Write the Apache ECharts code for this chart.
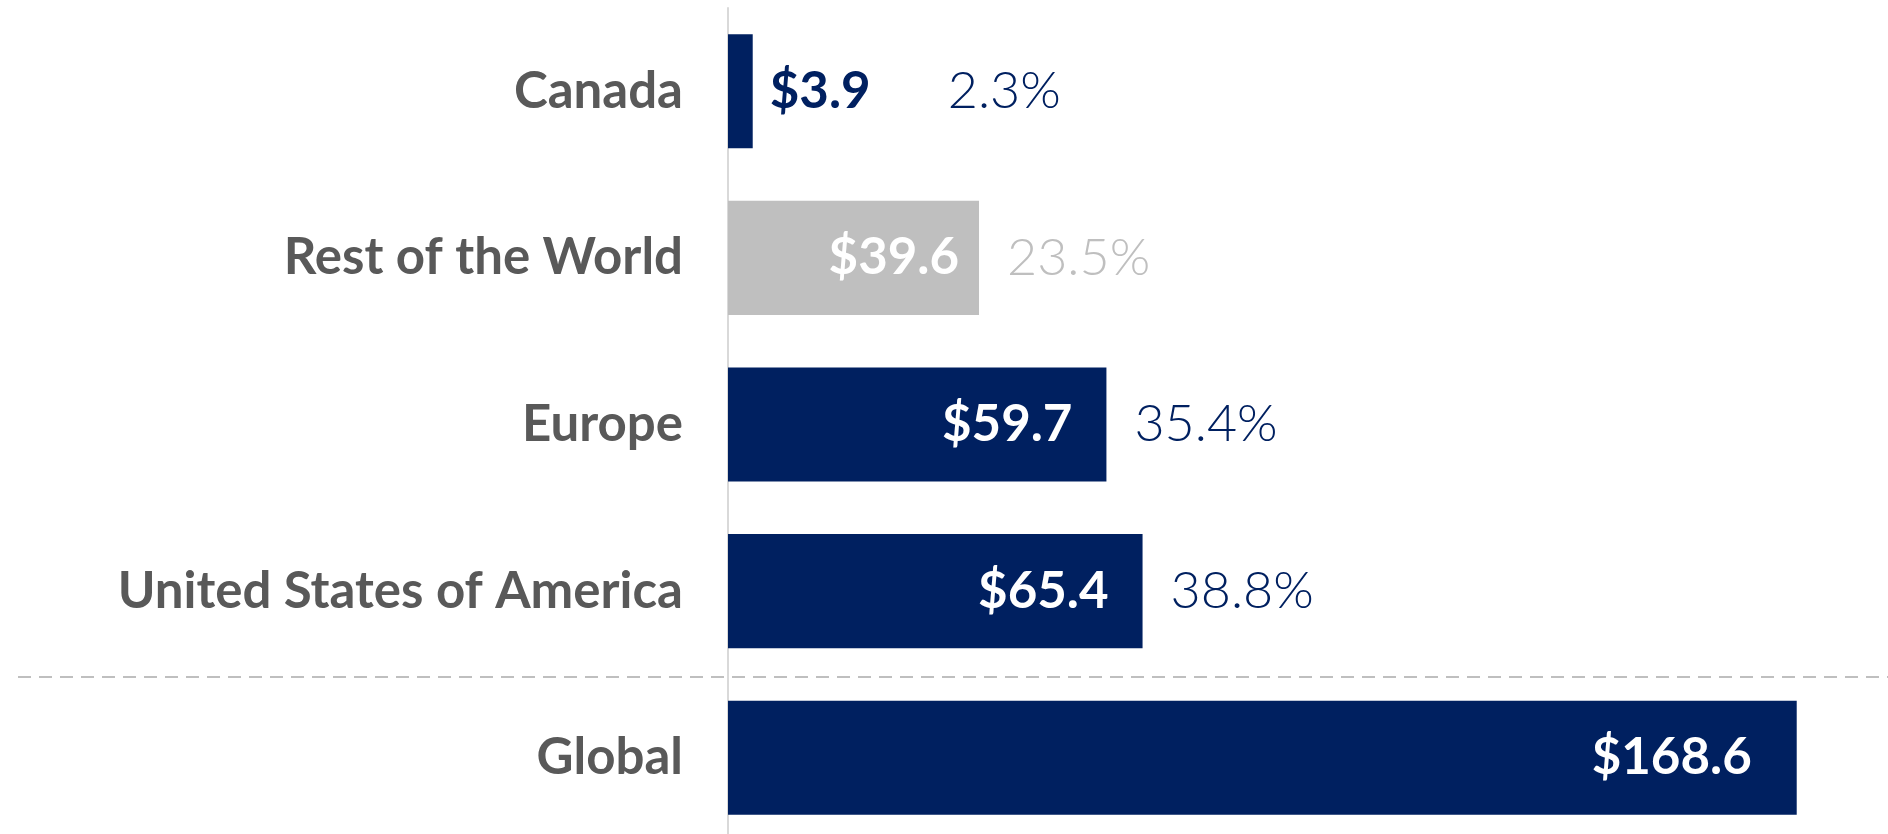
<!DOCTYPE html>
<html>
<head>
<meta charset="utf-8">
<script src="https://cdn.jsdelivr.net/npm/echarts@6/dist/echarts.min.js"></script>
<style>
  html, body { margin: 0; padding: 0; background: #ffffff; }
  #chart { width: 1888px; height: 834px; }
</style>
</head>
<body>
<div id="chart"></div>
<script>
// ---- data ----
const categories = ['Canada', 'Rest of the World', 'Europe', 'United States of America', 'Global'];
const values = [3.9, 39.6, 59.7, 65.4, 168.6];          // US$ (billions)
const shares = [2.3, 23.5, 35.4, 38.8, null];            // % of global

// ---- styling ----
const NAVY = '#002060';
const GREY_BAR = '#bfbfbf';
const LABEL_GREY = '#595959';
const greyIndex = 1;           // "Rest of the World" drawn in grey
const outsideIndex = 0;        // "Canada" value label sits outside the bar
const insideDistance = [17, 20, 34, 34, 45];

const chart = echarts.init(document.getElementById('chart'), null, { renderer: 'canvas' });

const valueData = values.map((v, i) => {
  const item = {
    value: v,
    itemStyle: { color: i === greyIndex ? GREY_BAR : NAVY },
    label: { distance: insideDistance[i] }
  };
  if (i === outsideIndex) {
    item.label = { position: 'right', distance: insideDistance[i], color: NAVY };
  }
  return item;
});

const shareData = values.map((v, i) => {
  const item = { value: v };
  item.label = {
    show: shares[i] != null,
    color: i === greyIndex ? GREY_BAR : NAVY,
    distance: i === outsideIndex ? 195 : 28
  };
  return item;
});

const option = {
  backgroundColor: '#ffffff',
  animation: false,
  grid: {
    left: 728, right: 0, top: 8, height: 833,
    containLabel: false,
    outerBoundsMode: 'none'
  },
  xAxis: {
    type: 'value', min: 0, max: 183,
    show: false
  },
  yAxis: {
    type: 'category',
    data: categories,
    inverse: true,
    axisLine: { show: true, lineStyle: { color: '#d9d9d9', width: 2 } },
    axisTick: { show: false },
    axisLabel: {
      margin: 45,
      color: LABEL_GREY,
      fontFamily: 'Lato',
      fontWeight: 'bold',
      fontSize: 51
    }
  },
  series: [
    {
      type: 'bar',
      data: valueData,
      barCategoryGap: '31.5%',
      z: 2,
      label: {
        show: true,
        position: 'insideRight',
        color: '#ffffff',
        fontFamily: 'Lato',
        fontWeight: 'bold',
        fontSize: 51,
        formatter: p => '$' + p.value.toFixed(1)
      }
    },
    {
      type: 'bar',
      data: shareData,
      barGap: '-100%',
      barCategoryGap: '31.5%',
      silent: true,
      z: 1,
      itemStyle: { color: 'rgba(0,0,0,0)' },
      label: {
        show: true,
        position: 'right',
        fontFamily: 'Lato',
        fontWeight: 300,
        fontSize: 52,
        formatter: p => shares[p.dataIndex] == null ? '' : shares[p.dataIndex].toFixed(1) + '%'
      }
    }
  ]
};

chart.setOption(option);

// dashed separator between the regions and the Global total
const yA = chart.convertToPixel({ yAxisIndex: 0 }, categories[3]);
const yB = chart.convertToPixel({ yAxisIndex: 0 }, categories[4]);
const ySep = Math.round((yA + yB) / 2) + 3;
chart.setOption({
  graphic: [{
    type: 'line',
    z: 10,
    shape: { x1: 18, y1: ySep, x2: 1888, y2: ySep },
    style: { stroke: '#bfbfbf', lineWidth: 2, lineDash: [13, 8] }
  }]
});
</script>
</body>
</html>
